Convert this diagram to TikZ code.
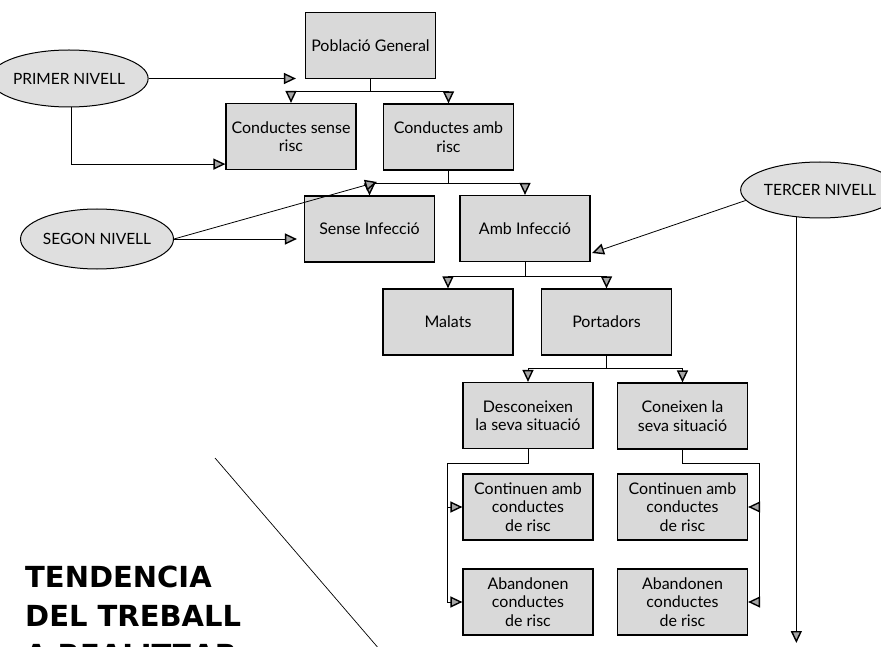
\documentclass[tikz,border=0pt]{standalone}
\usepackage{fontspec}
\setmainfont{Lato}
\newfontfamily\headfont{DejaVu Sans}
\usetikzlibrary{arrows.meta,shapes.geometric,calc}

\begin{document}
\begin{tikzpicture}[x=1pt,y=-1pt,
  box/.style={draw=black, line width=1.2pt, fill=gray!30,
    minimum width=130pt, minimum height=66pt, inner sep=2pt,
    align=center, font=\fontsize{16}{18.5}\selectfont},
  level/.style={ellipse, draw=black, line width=1pt, fill=gray!25,
    inner sep=0pt, font=\fontsize{15.5}{18}\selectfont},
  link/.style={draw=black, line width=0.8pt},
  arr/.style={link, -{Triangle[length=12pt,width=11pt,line width=1.4pt,fill=gray!70]}},
  heading/.style={anchor=base west, inner sep=0pt,
    font=\headfont\bfseries\fontsize{29}{39}\selectfont},
]
\useasboundingbox (0,0) rectangle (881,647);
\begin{scope}
\clip (0,0) rectangle (881,647);

% boxes
\node[box] (pg)  at (370.5, 45.5) {Població General};
\node[box] (csr) at (291,136.5)   {Conductes sense\\risc};
\node[box] (car) at (448.5,137)   {Conductes amb\\risc};
\node[box] (si)  at (369.5,229)   {Sense Infecció};
\node[box] (ai)  at (525,228.5)   {Amb Infecció};
\node[box] (mal) at (448,322)     {Malats};
\node[box] (por) at (606.5,322)   {Portadors};
\node[box] (des) at (528,415.5)   {Desconeixen\\la seva situació};
\node[box] (con) at (682.5,416)   {Coneixen la\\seva situació};
\node[box] (cl)  at (528,507)     {Continuen amb\\conductes\\de risc};
\node[box] (cr)  at (682.5,507)   {Continuen amb\\conductes\\de risc};
\node[box] (al)  at (528,602)     {Abandonen\\conductes\\de risc};
\node[box] (ar)  at (682.5,602)   {Abandonen\\conductes\\de risc};

% levels
\node[level, minimum width=134pt, minimum height=57pt] (p1) at (69,78.5) {PRIMER NIVELL};
\node[level, minimum width=128pt, minimum height=60pt] (p2) at (97,239) {SEGON NIVELL};
\node[level, minimum width=124pt, minimum height=56pt] (p3) at (820,190) {TERCER NIVELL};

% tree connectors
\draw[arr] (pg.south) -- ++(0,12) -| (csr.north);
\draw[arr] (pg.south) -- ++(0,12) -| (car.north);
\draw[arr] (car.south) -- ++(0,13) -| (si.north);
\draw[arr] (car.south) -- ++(0,13) -| (ai.north);
\draw[arr] (ai.south) -- ++(0,14) -| (mal.north);
\draw[arr] (ai.south) -- ++(0,14) -| (por.north);
\draw[arr] (por.south) -- ++(0,13) -| (des.north);
\draw[arr] (por.south) -- ++(0,13) -| (con.north);

\coordinate (dl) at (447,463);
\coordinate (dr) at (759,463);
\draw[link] (des.south) |- (dl);
\draw[arr] (dl) |- (cl.west);
\draw[arr] (dl) |- (al.west);
\draw[link] (con.south) |- (dr);
\draw[arr] (dr) |- (cr.east);
\draw[arr] (dr) |- (ar.east);

% level pointers
\coordinate (c1) at ($(csr.south west)+(0,-6)$);
\draw[arr, shorten >=9pt] (p1.east) -- (p1.east -| pg.west);
\draw[arr] (p1.275) |- (c1);

\coordinate (j2) at (377,182);
\draw[arr, shorten >=7pt] (p2.east) -- (p2.east -| si.west);
\draw[arr] (p2.east) -- (j2);

\coordinate (t3) at (592,253);
\coordinate (tend) at (797,643);
\draw[arr] (p3.188) -- (t3);
\draw[arr] (p3.229) -- (p3.229 |- tend);

% title and slash
\draw[line width=0.7pt] (215,458) -- (380,650);
\node[heading] (h1) at (25,587) {TENDENCIA};
\node[heading] (h2) at (25,626) {DEL TREBALL};
\node[heading] (h3) at (25,665) {A REALITZAR};
\end{scope}
\end{tikzpicture}
\end{document}
